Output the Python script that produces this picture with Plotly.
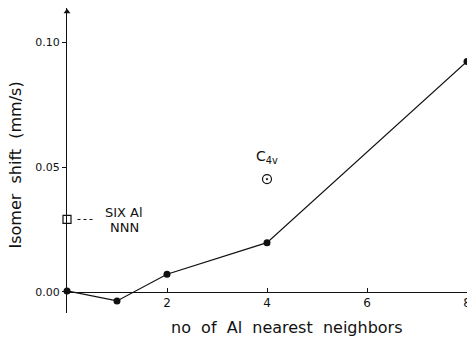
import plotly.graph_objects as go

# ---- data ----
n_al = [0, 1, 2, 4, 8]
shift = [0.0003, -0.0037, 0.0070, 0.0197, 0.0924]
c4v_x = [4]
c4v_y = [0.0452]
six_nnn_x = [0]
six_nnn_y = [0.029]
x_ticks = [2, 4, 6, 8]
y_ticks = [0.0, 0.05, 0.10]
y_ticktext = ["0.00", "0.05", "0.10"]

X_RANGE = [0, 8]
Y_RANGE = [-0.00855, 0.1139]

FONT = "DejaVu Sans"
INK = "#111111"

fig = go.Figure()

# main series
fig.add_trace(go.Scatter(
    x=n_al, y=shift, mode="lines+markers",
    line=dict(color=INK, width=1.2),
    marker=dict(color=INK, size=7, symbol="circle"),
    cliponaxis=False, showlegend=False))

# C4v point
fig.add_trace(go.Scatter(
    x=c4v_x, y=c4v_y, mode="markers",
    marker=dict(color=INK, size=9, symbol="circle-open-dot", line=dict(width=1.2)),
    cliponaxis=False, showlegend=False))

# six Al NNN point
fig.add_trace(go.Scatter(
    x=six_nnn_x, y=six_nnn_y, mode="markers",
    marker=dict(color=INK, size=8, symbol="square-open", line=dict(width=1.2)),
    cliponaxis=False, showlegend=False))

# dotted leader from the square to its label
fig.add_shape(type="line", x0=six_nnn_x[0] + 0.21, x1=six_nnn_x[0] + 0.52,
              y0=six_nnn_y[0], y1=six_nnn_y[0],
              line=dict(color=INK, width=1, dash="dot"))

# arrowhead on the y axis
fig.add_trace(go.Scatter(
    x=[X_RANGE[0]], y=[Y_RANGE[1] - 0.0015], mode="markers",
    marker=dict(color=INK, size=6, symbol="triangle-up"),
    cliponaxis=False, showlegend=False, hoverinfo="skip"))

# labels
fig.add_annotation(x=six_nnn_x[0] + 1.14, y=six_nnn_y[0], text="SIX Al",
                   showarrow=False, font=dict(family=FONT, size=13, color=INK),
                   yshift=7)
fig.add_annotation(x=six_nnn_x[0] + 1.14, y=six_nnn_y[0], text="NNN",
                   showarrow=False, font=dict(family=FONT, size=13, color=INK),
                   yshift=-8)
fig.add_annotation(x=c4v_x[0], y=c4v_y[0], text="C<sub>4v</sub>",
                   showarrow=False, font=dict(family=FONT, size=14, color=INK),
                   yshift=22)

# axis titles
fig.add_annotation(xref="paper", yref="paper", x=0.549, y=-0.049,
                   xanchor="center", yanchor="middle",
                   text="no\u00a0\u00a0of\u00a0\u00a0Al\u00a0\u00a0nearest\u00a0\u00a0neighbors",
                   showarrow=False, font=dict(family=FONT, size=16, color=INK))
fig.add_annotation(xref="paper", yref="paper", x=-0.1275, y=0.4836,
                   xanchor="center", yanchor="middle",
                   text="Isomer\u00a0\u00a0shift\u00a0\u00a0(mm/s)", textangle=-90,
                   showarrow=False, font=dict(family=FONT, size=16, color=INK))

zero_pos = -Y_RANGE[0] / (Y_RANGE[1] - Y_RANGE[0])

fig.update_layout(
    width=467, height=341,
    margin=dict(l=67, r=0, t=8, b=28, autoexpand=False),
    paper_bgcolor="white", plot_bgcolor="white",
    font=dict(family=FONT, color=INK),
    xaxis=dict(range=X_RANGE, anchor="free", position=zero_pos, side="bottom",
               showline=True, linecolor=INK, linewidth=1.2,
               ticks="inside", ticklen=4, tickcolor=INK, tickwidth=1,
               tickvals=x_ticks, tickfont=dict(family=FONT, size=12, color=INK),
               ticklabeloverflow="allow", automargin=False,
               showgrid=False, zeroline=False),
    yaxis=dict(range=Y_RANGE, showline=True, linecolor=INK, linewidth=1.2,
               ticks="outside", ticklen=4, tickcolor=INK, tickwidth=1,
               tickvals=y_ticks, ticktext=y_ticktext,
               tickfont=dict(family=FONT, size=11, color=INK), automargin=False,
               showgrid=False, zeroline=False),
)

fig.write_html("out.html", config={"displayModeBar": False},
               post_script="document.body.style.margin='0';document.body.style.overflow='hidden';")
